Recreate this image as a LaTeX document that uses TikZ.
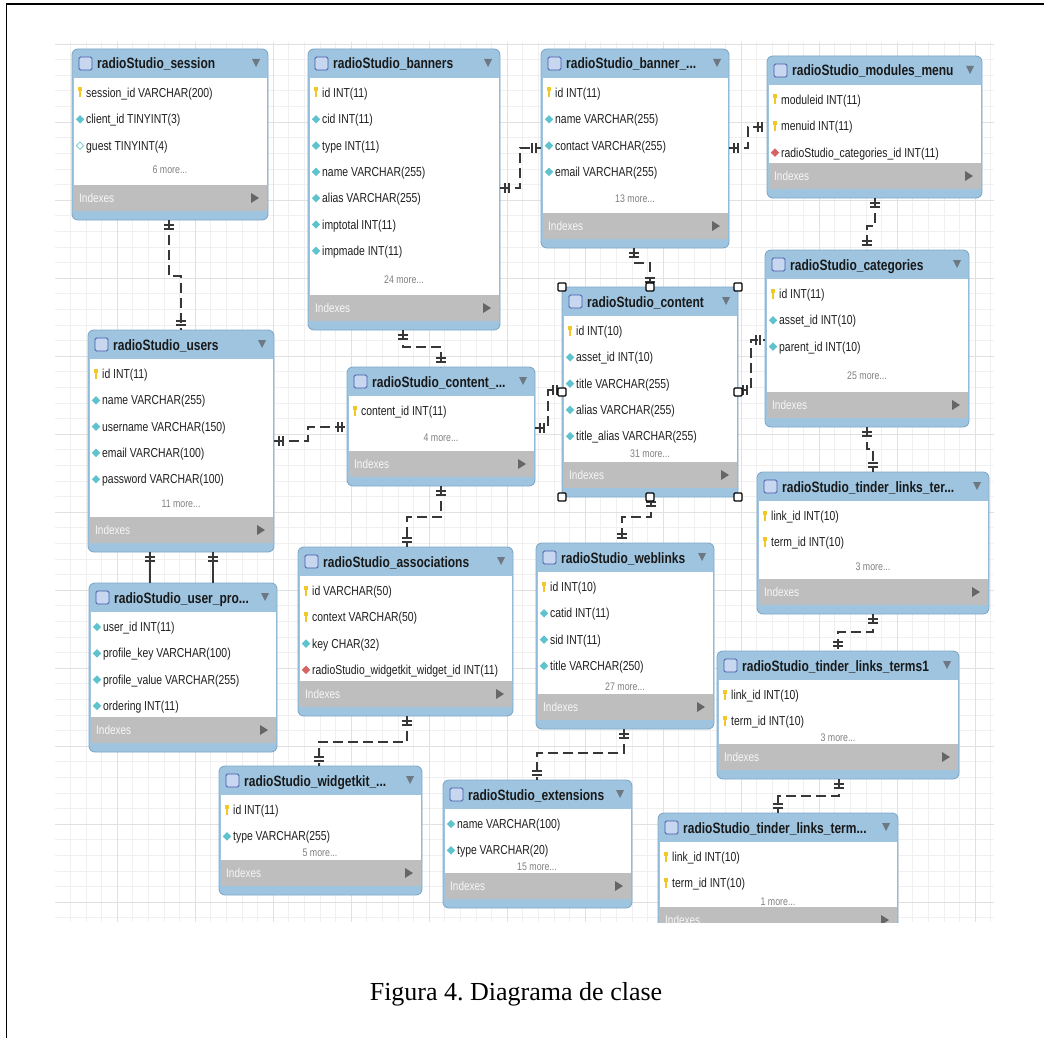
\documentclass[tikz,border=0pt]{standalone}
\usepackage{fontspec}
\usetikzlibrary{calc}
\newfontfamily\erf[FakeStretch=0.8]{Liberation Sans}
\newfontfamily\capf{Liberation Serif}
\frenchspacing

\definecolor{hdrblue}{RGB}{158,196,224}
\definecolor{tblborder}{RGB}{128,168,200}
\definecolor{idxgray}{RGB}{190,190,190}
\definecolor{linkc}{RGB}{55,55,55}
\definecolor{keyyel}{RGB}{240,200,40}
\definecolor{colcyan}{RGB}{95,195,205}
\definecolor{fkred}{RGB}{215,100,100}
\definecolor{trigray}{RGB}{110,120,130}
\definecolor{gridminor}{RGB}{240,240,240}
\definecolor{gridmajor}{RGB}{225,225,225}
\definecolor{iconfill}{RGB}{200,215,240}
\definecolor{iconedge}{RGB}{70,90,170}

\tikzset{
  tblbox/.style={draw=tblborder, fill=hdrblue, rounded corners=6pt, line width=0.9pt, inner sep=0pt, outer sep=0pt},
  rowtxt/.style={font=\erf\fontsize{13}{13}\selectfont, text=black!88, inner sep=0pt},
  ttltxt/.style={font=\erf\bfseries\fontsize{15}{15}\selectfont, text=black!90, inner sep=0pt},
  moretxt/.style={font=\erf\fontsize{11}{11}\selectfont, text=black!50, inner sep=0pt},
  idxtxt/.style={font=\erf\fontsize{12.5}{12.5}\selectfont, text=white!94!gray, inner sep=0pt},
  erlink/.style={draw=linkc, line width=1.5pt, dash pattern=on 10pt off 5pt},
  ersolid/.style={draw=linkc, line width=1.5pt},
  barline/.style={draw=linkc, line width=1.4pt},
  selhandle/.style={draw=black, fill=white, line width=1.2pt, minimum size=8pt, inner sep=0pt, rounded corners=1pt},
}

% column icons
\newcommand\icoK[1]{\begin{scope}[shift={#1}]\fill[keyyel] (-2,-5.5) rectangle (2,-1.5);\fill[keyyel] (-1.1,-1.5) rectangle (1.1,4.5);\end{scope}}
\newcommand\icoC[1]{\begin{scope}[shift={#1}]\fill[colcyan] (0,-4.2)--(4.2,0)--(0,4.2)--(-4.2,0)--cycle;\end{scope}}
\newcommand\icoH[1]{\begin{scope}[shift={#1}]\draw[colcyan!80, fill=white, line width=0.8pt] (0,-3.6)--(3.6,0)--(0,3.6)--(-3.6,0)--cycle;\end{scope}}
\newcommand\icoF[1]{\begin{scope}[shift={#1}]\fill[fkred] (0,-4.2)--(4.2,0)--(0,4.2)--(-4.2,0)--cycle;\end{scope}}

% table: name, left, top, right, bottom, title, rows
\newcommand\ertab[7]{%
  \node[tblbox, anchor=north west, minimum width={(#4-#2)*1pt}, minimum height={(#5-#3)*1pt}] (#1) at (#2,#3) {};
  \fill[white] ({#2+1.5},{#3+29}) rectangle ({#4-1.5},{#5-35});
  \fill[idxgray] ({#2+1.5},{#5-35}) rectangle ({#4-1.5},{#5-9});
  \draw[iconedge, fill=iconfill, line width=0.8pt, rounded corners=1.5pt] ({#2+7},{#3+8}) rectangle ({#2+20},{#3+21});
  \node[ttltxt, anchor=base west] at ({#2+25},{#3+20}) {#6};
  \fill[trigray] ({#4-16},{#3+10}) -- ({#4-8},{#3+10}) -- ({#4-12},{#3+18}) -- cycle;
  \node[idxtxt, anchor=base west] at ({#2+7},{#5-17.5}) {Indexes};
  \fill[black!60] ({#4-17},{#5-27}) -- ({#4-17},{#5-17}) -- ({#4-9},{#5-22}) -- cycle;
  \foreach \ic/\tx [count=\n from 0] in {#7} {
    \csname ico\ic\endcsname{({#2+8},{#3+44+\n*26.3})}
    \node[rowtxt, anchor=base west] at ({#2+14},{#3+44+\n*26.3+4.6}) {\tx};
  }
}
\newcommand\ermore[3]{\node[moretxt, anchor=base] at (#1,{#2+4}) {#3};}
% one-and-only-one mark at a connector end
\newcommand\erend[2]{\draw[barline, shift={(#1)}, rotate=#2] (5,-5) -- (5,5) (9,-5) -- (9,5);}

\begin{document}
\begin{tikzpicture}[x=1pt, y=-1pt]
\useasboundingbox (0,0) rectangle (1044,1038);
\fill[white] (0,0) rectangle (1044,1038);

% page frame
\draw[line width=1.3pt] (6.5,1038) -- (6.5,4) -- (1044,4);

\begin{scope}
\clip (55,42) rectangle (994,922);
% canvas grid
\foreach \i in {0,...,61} {\draw[gridminor, line width=0.6pt] ({54.6+\i*15.6},42) -- ({54.6+\i*15.6},922);}
\foreach \i in {0,...,58} {\draw[gridminor, line width=0.6pt] (55,{28.4+\i*15.6}) -- (994,{28.4+\i*15.6});}
\foreach \i in {0,...,12} {\draw[gridmajor, line width=0.8pt] ({39+\i*78},42) -- ({39+\i*78},922);}
\foreach \i in {0,...,11} {\draw[gridmajor, line width=0.8pt] (55,{44+\i*78}) -- (994,{44+\i*78});}

% tables
\ertab{session}{72}{49}{268}{220}{radioStudio\_session}{K/session\_id VARCHAR(200), C/client\_id TINYINT(3), H/guest TINYINT(4)}
\ermore{170}{169}{6 more...}

\ertab{banners}{308}{49}{500}{330}{radioStudio\_banners}{K/id INT(11), C/cid INT(11), C/type INT(11), C/name VARCHAR(255), C/alias VARCHAR(255), C/imptotal INT(11), C/impmade INT(11)}
\ermore{404}{279}{24 more...}

\ertab{bannerx}{541}{49}{729}{248}{radioStudio\_banner\_...}{K/id INT(11), C/name VARCHAR(255), C/contact VARCHAR(255), C/email VARCHAR(255)}
\ermore{635}{198}{13 more...}

\ertab{modules}{767}{56}{982}{198}{radioStudio\_modules\_menu}{K/moduleid INT(11), K/menuid INT(11), F/radioStudio\_categories\_id INT(11)}

\ertab{categories}{765}{250}{969}{427}{radioStudio\_categories}{K/id INT(11), C/asset\_id INT(10), C/parent\_id INT(10)}
\ermore{867}{375}{25 more...}

\ertab{content}{562}{287}{738}{497}{radioStudio\_content}{K/id INT(10), C/asset\_id INT(10), C/title VARCHAR(255), C/alias VARCHAR(255), C/title\_alias VARCHAR(255)}
\ermore{650}{453}{31 more...}

\ertab{users}{88}{330}{274}{552}{radioStudio\_users}{K/id INT(11), C/name VARCHAR(255), C/username VARCHAR(150), C/email VARCHAR(100), C/password VARCHAR(100)}
\ermore{181}{503}{11 more...}

\ertab{contentx}{347}{367}{535}{486}{radioStudio\_content\_...}{K/content\_id INT(11)}
\ermore{441}{437}{4 more...}

\ertab{userpro}{89}{583}{277}{752}{radioStudio\_user\_pro...}{C/user\_id INT(11), C/profile\_key VARCHAR(100), C/profile\_value VARCHAR(255), C/ordering INT(11)}

\ertab{assoc}{298}{547}{513}{716}{radioStudio\_associations}{K/id VARCHAR(50), K/context VARCHAR(50), C/key CHAR(32), F/radioStudio\_widgetkit\_widget\_id INT(11)}

\ertab{widgetkit}{219}{766}{422}{895}{radioStudio\_widgetkit\_...}{K/id INT(11), C/type VARCHAR(255)}
\ermore{320}{852}{5 more...}

\ertab{weblinks}{536}{543}{714}{729}{radioStudio\_weblinks}{K/id INT(10), C/catid INT(11), C/sid INT(11), C/title VARCHAR(250)}
\ermore{625}{686}{27 more...}

\ertab{ext}{443}{780}{632}{908}{radioStudio\_extensions}{C/name VARCHAR(100), C/type VARCHAR(20)}
\ermore{537}{866}{15 more...}

\ertab{tlt}{757}{472}{989}{614}{radioStudio\_tinder\_links\_ter...}{K/link\_id INT(10), K/term\_id INT(10)}
\ermore{873}{566}{3 more...}

\ertab{terms1}{717}{651}{959}{779}{radioStudio\_tinder\_links\_terms1}{K/link\_id INT(10), K/term\_id INT(10)}
\ermore{838}{737}{3 more...}

\ertab{tlterm}{658}{813}{898}{942}{radioStudio\_tinder\_links\_term...}{K/link\_id INT(10), K/term\_id INT(10)}
\ermore{778}{901}{1 more...}

% relationships
\draw[erlink] ($(session.south west)+(97,0)$) coordinate (r1a) -- ++(0,56) -| ($(users.north west)+(93,0)$) coordinate (r1b);
\erend{r1a}{-90}\erend{r1b}{90}

\draw[erlink] ($(banners.north east)+(0,139)$) coordinate (r2a) -- ++(20,0) |- ($(bannerx.north west)+(0,99)$) coordinate (r2b);
\erend{r2a}{0}\erend{r2b}{180}

\draw[erlink] ($(bannerx.north east)+(0,99)$) coordinate (r3a) -- ++(19,0) |- ($(modules.north west)+(0,71)$) coordinate (r3b);
\erend{r3a}{0}\erend{r3b}{180}

\draw[erlink] ($(modules.south west)+(108,0)$) coordinate (r4a) -- ++(0,28) -| ($(categories.north west)+(102,0)$) coordinate (r4b);
\erend{r4a}{-90}\erend{r4b}{90}

\draw[erlink] ($(bannerx.south west)+(93,0)$) coordinate (r5a) -- ++(0,15) -| ($(content.north west)+(88,0)$) coordinate (r5b);
\erend{r5a}{-90}\erend{r5b}{90}

\draw[erlink] ($(banners.south west)+(95,0)$) coordinate (r6a) -- ++(0,17) -| ($(contentx.north west)+(94,0)$) coordinate (r6b);
\erend{r6a}{-90}\erend{r6b}{90}

\draw[erlink] ($(users.north east)+(0,111)$) coordinate (r7a) -- ++(34,0) |- ($(contentx.north west)+(0,60)$) coordinate (r7b);
\erend{r7a}{0}\erend{r7b}{180}

\draw[erlink] ($(contentx.north east)+(0,61)$) coordinate (r8a) -- ++(13,0) |- ($(content.north west)+(0,103)$) coordinate (r8b);
\erend{r8a}{0}\erend{r8b}{180}

\draw[erlink] ($(content.north east)+(0,103)$) coordinate (r9a) -- ++(13,0) |- ($(categories.north west)+(0,90)$) coordinate (r9b);
\erend{r9a}{0}\erend{r9b}{180}

\draw[erlink] ($(categories.south west)+(102,0)$) coordinate (r10a) -- ++(0,22) -| ($(tlt.north west)+(116,0)$) coordinate (r10b);
\erend{r10a}{-90}\erend{r10b}{90}

\draw[erlink] ($(content.south west)+(89,0)$) coordinate (r11a) -- ++(0,20) -| ($(weblinks.north west)+(86,0)$) coordinate (r11b);
\erend{r11a}{-90}\erend{r11b}{90}

\draw[erlink] ($(contentx.south west)+(94,0)$) coordinate (r12a) -- ++(0,31) -| ($(assoc.north west)+(109,0)$) coordinate (r12b);
\erend{r12a}{-90}\erend{r12b}{90}

\draw[ersolid] ($(users.south west)+(62,0)$) coordinate (r13a) -- ($(userpro.north west)+(61,0)$);
\erend{r13a}{-90}
\draw[ersolid] ($(users.south west)+(125,0)$) coordinate (r14a) -- ($(userpro.north west)+(124,0)$);
\erend{r14a}{-90}

\draw[erlink] ($(assoc.south west)+(109,0)$) coordinate (r15a) -- ++(0,26) -| ($(widgetkit.north west)+(100,0)$) coordinate (r15b);
\erend{r15a}{-90}\erend{r15b}{90}

\draw[erlink] ($(weblinks.south west)+(88,0)$) coordinate (r16a) -- ++(0,24) -| ($(ext.north west)+(94,0)$) coordinate (r16b);
\erend{r16a}{-90}\erend{r16b}{90}

\draw[erlink] ($(tlt.south west)+(116,0)$) coordinate (r17a) -- ++(0,18) -| ($(terms1.north west)+(121,0)$) coordinate (r17b);
\erend{r17a}{-90}\erend{r17b}{90}

\draw[erlink] ($(terms1.south west)+(122,0)$) coordinate (r18a) -- ++(0,17) -| ($(tlterm.north west)+(120,0)$) coordinate (r18b);
\erend{r18a}{-90}\erend{r18b}{90}

% selection handles around the content table
\foreach \a in {north west,north,north east,west,east,south west,south,south east}
  \node[selhandle] at (content.\a) {};
\end{scope}

\node[font=\capf\fontsize{26}{26}\selectfont, anchor=base, inner sep=0pt] (caption) at (516,1000) {Figura 4. Diagrama de clase};
\end{tikzpicture}
\end{document}
